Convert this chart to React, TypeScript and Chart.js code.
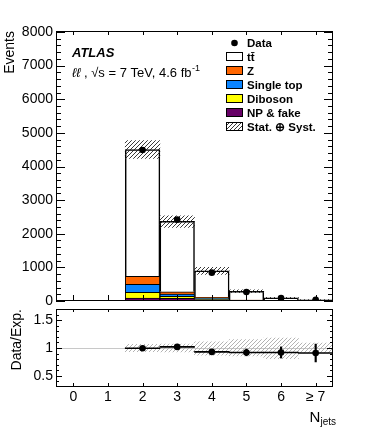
import React, { useEffect, useRef } from 'react';
import { Chart, registerables } from 'chart.js';

Chart.register(...registerables);

// ---------- data ----------
const categories = ['0', '1', '2', '3', '4', '5', '6', '≥ 7'];

const ttbar = [null, null, 3770, 2094, 790, 260, 84, 35];
const zjets = [null, null, 238, 68, 25, 5, 2, 1];
const singleTop = [null, null, 238, 68, 22, 12, 3, 1];
const diboson = [null, null, 170, 60, 18, 4, 1, 0.5];
const npFake = [null, null, 89, 80, 45, 9, 2, 0.5];

const mcBandLow = [null, null, 4240, 2190, 790, 250, 75, 34];
const mcBandHigh = [null, null, 4770, 2530, 1000, 333, 110, 42];

const dataCounts = [null, null, 4490, 2420, 843, 268, 85, 35];

const ratio = [null, null, 0.995, 1.02, 0.93, 0.92, 0.92, 0.91];
const ratioErr = [null, null, 0.015, 0.02, 0.035, 0.06, 0.1, 0.16];
const ratioBandLow = [null, null, 0.936, 0.93, 0.87, 0.86, 0.81, 0.91];
const ratioBandHigh = [null, null, 1.064, 1.07, 1.11, 1.15, 1.18, 1.09];

const mainYTicks = [0, 1000, 2000, 3000, 4000, 5000, 6000, 7000, 8000];
const ratioYTicks = [0.5, 1, 1.5];

const legendLabels = ['Data', 'tt\u0304', 'Z', 'Single top', 'Diboson', 'NP & fake', 'Stat. \u2295 Syst.'];

// ---------- styles ----------
const FONT = '"Liberation Sans", Arial, Helvetica, sans-serif';
const C_TT = '#ffffff';
const C_Z = '#ff6600';
const C_ST = '#0a84ff';
const C_DB = '#ffff00';
const C_NP = '#660066';

function makeHatch(color: string, size: number, lw: number) {
  const c = document.createElement('canvas');
  c.width = size;
  c.height = size;
  const g = c.getContext('2d')!;
  g.strokeStyle = color;
  g.lineWidth = lw;
  g.beginPath();
  g.moveTo(0, size);
  g.lineTo(size, 0);
  g.moveTo(-1, 1);
  g.lineTo(1, -1);
  g.moveTo(size - 1, size + 1);
  g.lineTo(size + 1, size - 1);
  g.stroke();
  return g.createPattern(c, 'repeat')!;
}

function pairs(lo: (number | null)[], hi: (number | null)[]) {
  return lo.map((l, i) => (l == null || hi[i] == null ? null : [l, hi[i] as number]));
}

function framePlugin(yTickList: { v: number; major: boolean }[], yMajor: number, yMinor: number, xTop: number, xBottom: number) {
  return {
    id: 'rootFrame',
    afterDraw(chart: any) {
      const { ctx, chartArea } = chart;
      const { left, right, top, bottom } = chartArea;
      const xs = chart.scales.x;
      const ys = chart.scales.y;
      ctx.save();
      ctx.strokeStyle = '#000';
      ctx.lineWidth = 1;
      ctx.beginPath();
      for (const t of yTickList) {
        const py = Math.round(ys.getPixelForValue(t.v)) + 0.5;
        const len = t.major ? yMajor : yMinor;
        ctx.moveTo(left, py);
        ctx.lineTo(left + len, py);
        ctx.moveTo(right, py);
        ctx.lineTo(right - len, py);
      }
      for (let i = 0; i < categories.length; i++) {
        const px = Math.round(xs.getPixelForValue(i)) + 0.5;
        if (xTop > 0) {
          ctx.moveTo(px, top);
          ctx.lineTo(px, top + xTop);
        }
        ctx.moveTo(px, bottom);
        ctx.lineTo(px, bottom - xBottom);
      }
      ctx.stroke();
      ctx.strokeRect(left + 0.5, top + 0.5, right - left - 1, bottom - top - 1);
      ctx.restore();
    },
  };
}

export default function App() {
  const mainRef = useRef<HTMLCanvasElement>(null);
  const ratioRef = useRef<HTMLCanvasElement>(null);

  useEffect(() => {
    Chart.defaults.font.family = FONT;
    Chart.defaults.color = '#000';

    const hatchMain = makeHatch('#222', 4, 0.9);
    const hatchRatio = makeHatch('#aaaaaa', 4, 0.9);
    const hatchLegend = makeHatch('#222', 4, 0.9);

    const mainMinor: { v: number; major: boolean }[] = [];
    for (let v = 0; v <= 8000; v += 200) mainMinor.push({ v, major: v % 1000 === 0 });
    const ratioMinor: { v: number; major: boolean }[] = [];
    for (let k = 4; k <= 16; k++) ratioMinor.push({ v: k / 10, major: k % 5 === 0 });

    const barCommon = {
      type: 'bar' as const,
      borderColor: '#000',
      borderWidth: 1,
      barPercentage: 1,
      categoryPercentage: 1,
      stack: 'mc',
      order: 2,
    };

    const legendPlugin = {
      id: 'atlasLegend',
      afterDraw(chart: any) {
        const ctx = chart.ctx as CanvasRenderingContext2D;
        ctx.save();
        ctx.fillStyle = '#000';
        ctx.textBaseline = 'alphabetic';
        ctx.textAlign = 'left';
        ctx.font = `italic bold 13px ${FONT}`;
        ctx.fillText('ATLAS', 72, 57);
        let x = 72;
        ctx.font = `italic 13px ${FONT}`;
        ctx.fillText('\u2113\u2113', x, 77);
        x += ctx.measureText('\u2113\u2113').width;
        ctx.font = `13px ${FONT}`;
        const main = ' , \u221As = 7 TeV, 4.6 fb';
        ctx.fillText(main, x, 77);
        x += ctx.measureText(main).width;
        ctx.font = `9px ${FONT}`;
        ctx.fillText('-1', x + 0.5, 71);

        const bx = 226, bw = 17, bh = 9, tx = 247;
        const y0 = 43, dy = 13.9;
        const fills: any[] = [null, C_TT, C_Z, C_ST, C_DB, C_NP, hatchLegend];
        ctx.font = `bold 11.5px ${FONT}`;
        legendLabels.forEach((lab, i) => {
          const cy = y0 + i * dy;
          if (i === 0) {
            ctx.beginPath();
            ctx.arc(bx + bw / 2, cy, 3.3, 0, Math.PI * 2);
            ctx.fillStyle = '#000';
            ctx.fill();
          } else {
            const top = Math.round(cy - bh / 2);
            ctx.fillStyle = fills[i];
            ctx.fillRect(bx, top, bw, bh);
            ctx.strokeStyle = '#000';
            ctx.lineWidth = 1;
            ctx.strokeRect(bx + 0.5, top + 0.5, bw - 1, bh - 1);
          }
          ctx.fillStyle = '#000';
          ctx.fillText(lab, tx, cy + 4.2);
        });
        ctx.restore();
      },
    };

    const main = new Chart(mainRef.current!, {
      type: 'bar',
      data: {
        labels: categories,
        datasets: [
          {
            type: 'line',
            label: 'Data',
            data: dataCounts,
            showLine: false,
            pointRadius: 3.3,
            pointBackgroundColor: '#000',
            pointBorderWidth: 0,
            order: 0,
          } as any,
          {
            type: 'bar',
            label: 'Stat. ⊕ Syst.',
            data: pairs(mcBandLow, mcBandHigh),
            backgroundColor: hatchMain,
            borderWidth: 0,
            grouped: false,
            barPercentage: 1,
            categoryPercentage: 1,
            stack: 'band',
            order: 1,
          } as any,
          { ...barCommon, label: 'NP & fake', data: npFake, backgroundColor: C_NP } as any,
          { ...barCommon, label: 'Diboson', data: diboson, backgroundColor: C_DB } as any,
          { ...barCommon, label: 'Single top', data: singleTop, backgroundColor: C_ST } as any,
          { ...barCommon, label: 'Z', data: zjets, backgroundColor: C_Z } as any,
          { ...barCommon, label: 'ttbar', data: ttbar, backgroundColor: C_TT, borderWidth: 1.5 } as any,
        ],
      },
      options: {
        animation: false,
        responsive: false,
        events: [],
        layout: { padding: { left: 0, right: 57, top: 31, bottom: 4 } },
        plugins: { legend: { display: false }, tooltip: { enabled: false } },
        scales: {
          x: { display: false, stacked: true },
          y: {
            stacked: true,
            min: 0,
            max: 8030,
            afterBuildTicks: (s: any) => {
              s.ticks = mainYTicks.map((v) => ({ value: v }));
            },
            afterFit: (s: any) => {
              s.width = 56;
              s.paddingTop = 0;
              s.paddingBottom = 0;
            },
            grid: { display: false, drawTicks: false },
            border: { display: false },
            ticks: { padding: 3, color: '#000', font: { size: 14 }, callback: (v: any) => String(v) },
            title: {
              display: true,
              text: 'Events',
              align: 'end',
              color: '#000',
              font: { size: 14 },
              padding: { top: 2, bottom: 0 },
            },
          },
        },
      } as any,
      plugins: [framePlugin(mainMinor, 9, 5, 4, 6), legendPlugin],
    });

    const njetsPlugin = {
      id: 'njets',
      afterDraw(chart: any) {
        const ctx = chart.ctx as CanvasRenderingContext2D;
        ctx.save();
        ctx.fillStyle = '#000';
        ctx.textBaseline = 'alphabetic';
        ctx.textAlign = 'left';
        ctx.font = `10px ${FONT}`;
        const wSub = ctx.measureText('jets').width;
        ctx.font = `15px ${FONT}`;
        const wN = ctx.measureText('N').width;
        const right = 336;
        const x0 = right - wSub - wN;
        ctx.fillText('N', x0, 117);
        ctx.font = `10px ${FONT}`;
        ctx.fillText('jets', x0 + wN, 120);
        ctx.restore();
      },
    };

    const ratioChart = new Chart(ratioRef.current!, {
      type: 'bar',
      data: {
        labels: categories,
        datasets: [
          {
            type: 'line',
            label: 'Data/Exp.',
            data: ratio,
            showLine: false,
            pointRadius: 3.3,
            pointBackgroundColor: '#000',
            pointBorderWidth: 0,
            order: 0,
          } as any,
          {
            type: 'bar',
            label: 'stat err',
            data: ratio.map((r, i) => (r == null ? null : [r - (ratioErr[i] as number), r + (ratioErr[i] as number)])),
            backgroundColor: '#000',
            borderWidth: 0,
            grouped: false,
            barPercentage: 1,
            categoryPercentage: 1,
            maxBarThickness: 1.5,
            order: 1,
          } as any,
          {
            type: 'bar',
            label: 'bin width',
            data: ratio.map((r) => (r == null ? null : [r - 0.009, r + 0.009])),
            backgroundColor: '#000',
            borderWidth: 0,
            grouped: false,
            barPercentage: 1,
            categoryPercentage: 1,
            order: 1,
          } as any,
          {
            type: 'bar',
            label: 'band',
            data: pairs(ratioBandLow, ratioBandHigh),
            backgroundColor: hatchRatio,
            borderWidth: 0,
            grouped: false,
            barPercentage: 1,
            categoryPercentage: 1,
            order: 2,
          } as any,
        ],
      },
      options: {
        animation: false,
        responsive: false,
        events: [],
        layout: { padding: { left: 0, right: 57, top: 2, bottom: 0 } },
        plugins: { legend: { display: false }, tooltip: { enabled: false } },
        scales: {
          x: {
            afterFit: (s: any) => {
              s.height = 53;
            },
            grid: { display: false, drawTicks: false },
            border: { display: false },
            ticks: { padding: 2, color: '#000', font: { size: 14 }, maxRotation: 0, autoSkip: false },
          },
          y: {
            min: 0.3,
            max: 1.7,
            afterBuildTicks: (s: any) => {
              s.ticks = ratioYTicks.map((v) => ({ value: v }));
            },
            afterFit: (s: any) => {
              s.width = 56;
              s.paddingTop = 0;
              s.paddingBottom = 0;
            },
            grid: {
              display: true,
              drawTicks: false,
              lineWidth: 1,
              color: (c: any) => (c.tick && c.tick.value === 1 ? '#c8c8c8' : 'rgba(0,0,0,0)'),
            },
            border: { display: false },
            ticks: { padding: 3, color: '#000', font: { size: 14 }, callback: (v: any) => String(v) },
            title: {
              display: true,
              text: 'Data/Exp.',
              align: 'end',
              color: '#000',
              font: { size: 14 },
              padding: { top: 9, bottom: 0 },
            },
          },
        },
      } as any,
      plugins: [framePlugin(ratioMinor, 6, 3, 3, 4), njetsPlugin],
    });

    return () => {
      main.destroy();
      ratioChart.destroy();
    };
  }, []);

  return (
    <div style={{ position: 'absolute', left: 0, top: 0, width: 390, height: 440, background: '#fff' }}>
      <canvas ref={mainRef} width={390} height={305} style={{ position: 'absolute', left: 0, top: 0, display: 'block' }} />
      <canvas ref={ratioRef} width={390} height={135} style={{ position: 'absolute', left: 0, top: 305, display: 'block' }} />
    </div>
  );
}
